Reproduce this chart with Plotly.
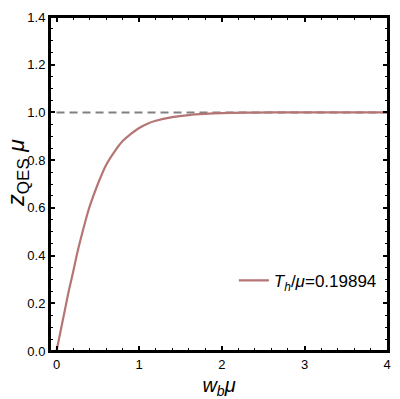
import plotly.graph_objects as go

# data
wb_mu = [0, 0.05, 0.1, 0.15, 0.2, 0.25, 0.3, 0.35, 0.4, 0.5, 0.6, 0.7, 0.8, 0.9,
         1.0, 1.1, 1.2, 1.4, 1.6, 1.8, 2.0, 2.3, 2.6, 3.0, 3.5, 4.0]
zqes_mu = [0, 0.085, 0.17, 0.255, 0.33, 0.41, 0.48, 0.545, 0.605, 0.70, 0.78, 0.835,
           0.88, 0.91, 0.935, 0.953, 0.965, 0.98, 0.989, 0.994, 0.997, 0.999, 1.0,
           1.0, 1.0, 1.0]
ref_x = [0, 4]
ref_y = [1.0, 1.0]
legend_label = "<i>T</i><sub><i>h</i></sub>/<i>μ</i>=0.19894"
y_title = "<i>z</i><sub><span style='font-size:17px'>QES</span></sub> <i>μ</i>"
x_ticks = [0, 1, 2, 3, 4]
y_ticks = [0.0, 0.2, 0.4, 0.6, 0.8, 1.0, 1.2, 1.4]

FONT = "Liberation Sans, Arial"

fig = go.Figure()
fig.add_trace(go.Scatter(x=ref_x, y=ref_y, mode="lines",
                         line=dict(color="#808080", width=2, dash="8px,5px"),
                         showlegend=False, hoverinfo="skip"))
fig.add_trace(go.Scatter(x=wb_mu, y=zqes_mu, mode="lines", name=legend_label,
                         line=dict(color="#b57575", width=2.2, shape="spline")))

axis_common = dict(showline=True, linecolor="black", linewidth=2, mirror="allticks",
                   ticks="inside", ticklen=5, tickwidth=1.5, tickcolor="black",
                   showgrid=False, zeroline=False, automargin=False,
                   ticklabeloverflow="allow",
                   tickfont=dict(family=FONT, size=13, color="black"))

fig.update_xaxes(range=[-0.079, 4.01], tickvals=x_ticks,
                 minor=dict(dtick=0.2, ticks="inside", ticklen=3, tickwidth=1.2,
                            tickcolor="black", showgrid=False),
                 title=dict(text="<i>w</i><sub><i>b</i></sub><i>μ</i>",
                            font=dict(family=FONT, size=20, color="black")),
                 **axis_common)
fig.update_yaxes(range=[0, 1.4], tickvals=y_ticks, tickformat=".1f",
                 minor=dict(dtick=0.05, ticks="inside", ticklen=3, tickwidth=1.2,
                            tickcolor="black", showgrid=False),
                 **axis_common)

fig.add_annotation(text=y_title, xref="paper", yref="paper", x=-0.146, y=0.533,
                   xanchor="left", yanchor="middle", textangle=-90, showarrow=False,
                   font=dict(family=FONT, size=23, color="black"))

fig.add_shape(type="rect", xref="paper", yref="paper", x0=0, x1=1, y0=0, y1=1,
              line=dict(color="black", width=2), layer="above")

# page body has an 8px default margin; the figure is sized/offset to compensate
fig.update_layout(width=392, height=391,
                  margin=dict(l=42, r=12, t=9, b=48, autoexpand=False),
                  paper_bgcolor="white", plot_bgcolor="white",
                  legend=dict(x=0.544, y=0.21, xanchor="left", yanchor="middle",
                              bgcolor="rgba(0,0,0,0)",
                              font=dict(family=FONT, size=17, color="black")))

fig.write_html("out.html")
